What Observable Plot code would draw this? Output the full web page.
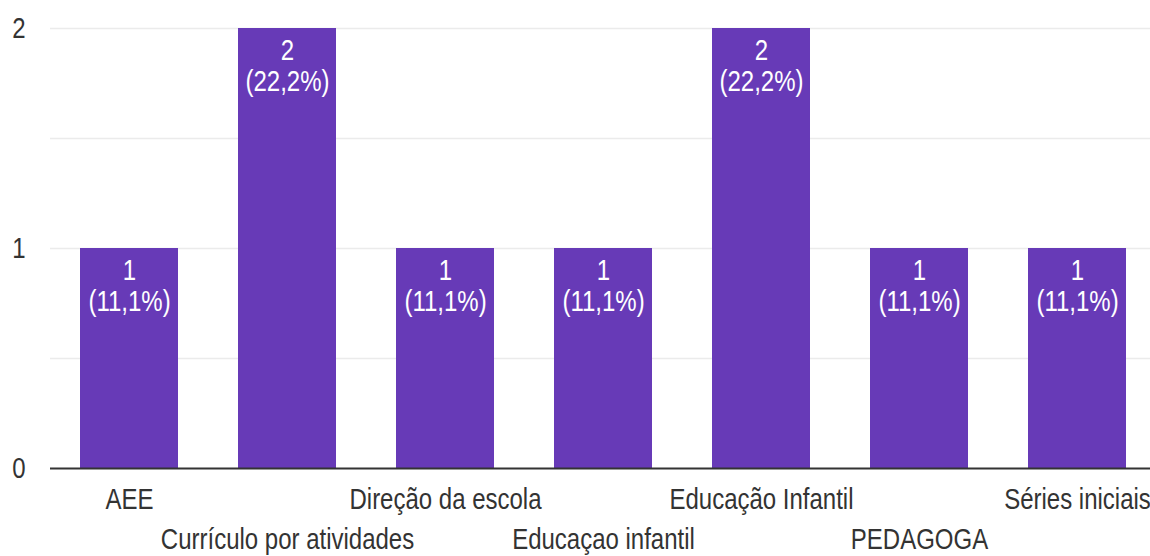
<!DOCTYPE html>
<html>
<head>
<meta charset="utf-8">
<script src="https://cdn.jsdelivr.net/npm/d3@7"></script>
<script src="https://cdn.jsdelivr.net/npm/@observablehq/plot@0.6"></script>
<style>
  html, body { margin: 0; padding: 0; background: #ffffff; }
  #chart { width: 1150px; height: 556px; overflow: hidden; }
</style>
</head>
<body>
<div id="chart"></div>
<script>
const categories = ["AEE", "Currículo por atividades", "Direção da escola", "Educaçao infantil", "Educação Infantil", "PEDAGOGA", "Séries iniciais"];
const counts = [1, 2, 1, 1, 2, 1, 1];
const percents = ["11,1%", "22,2%", "11,1%", "11,1%", "22,2%", "11,1%", "11,1%"];
const yTicks = [0, 1, 2];
const gridValues = [0.5, 1, 1.5, 2];

const data = categories.map((c, i) => ({cat: c, count: counts[i], pct: percents[i], idx: i}));

const chart = Plot.plot({
  width: 1150,
  height: 556,
  marginTop: 28,
  marginBottom: 88,
  marginLeft: 50,
  marginRight: 0,
  x: {domain: categories, range: [50, 1156], paddingInner: 0.38, paddingOuter: 0.19, axis: null},
  y: {domain: [0, 2], axis: null},
  style: {fontFamily: "'Liberation Sans', Arial, sans-serif", fontSize: "24px", background: "#ffffff"},
  marks: [
    Plot.ruleY(gridValues, {stroke: "#ebebeb", strokeWidth: 1.5}),
    Plot.ruleX([0], {x: () => 0, frameAnchor: "left", stroke: "#f2f2f2"}),
    Plot.barY(data, {x: "cat", y: "count", fill: "#673ab7"}),
    Plot.ruleY([0], {stroke: "#333333", strokeWidth: 2}),
    Plot.text(data, {x: "cat", y: "count", text: d => `${d.count}\n(${d.pct})`, fill: "#ffffff", lineAnchor: "top", dy: 15, lineHeight: 1.03, fontSize: 24}),
    Plot.text(yTicks, {y: d => d, text: d => String(d), frameAnchor: "left", textAnchor: "end", dx: -25, fill: "#333333", fontSize: 24}),
    Plot.text(data.filter(d => d.idx % 2 === 0), {x: "cat", y: () => 0, text: "cat", lineAnchor: "middle", dy: 31, fill: "#333333", fontSize: 24}),
    Plot.text(data.filter(d => d.idx % 2 === 1), {x: "cat", y: () => 0, text: "cat", lineAnchor: "middle", dy: 71, fill: "#333333", fontSize: 24})
  ]
});

document.getElementById("chart").appendChild(chart);

// Stretch all texts vertically to mimic the tall, narrow lettering of the reference
const svgNS = "http://www.w3.org/2000/svg";
chart.querySelectorAll("text").forEach(t => {
  const g = document.createElementNS(svgNS, "g");
  t.parentNode.insertBefore(g, t);
  g.appendChild(t);
  const bb = g.getBBox();
  const cy = bb.y + bb.height / 2;
  g.setAttribute("transform", `translate(0,${cy}) scale(1,1.25) translate(0,${-cy})`);
});
</script>
</body>
</html>
